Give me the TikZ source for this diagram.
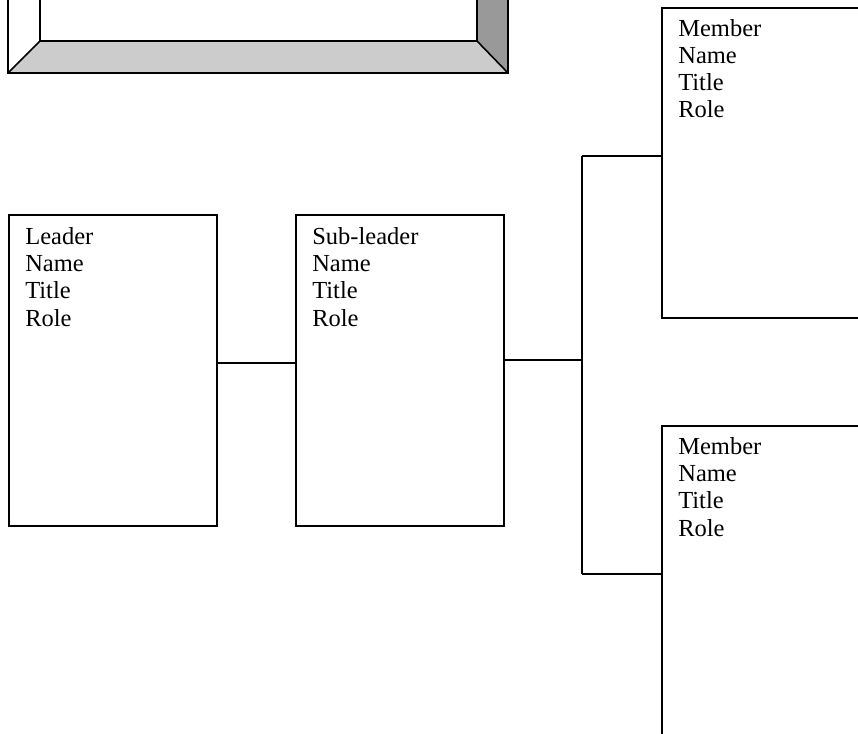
\documentclass[tikz,border=0pt]{standalone}
\usepackage{fontspec}
\setmainfont{Liberation Serif}
\usepackage{tikz}
\definecolor{bevdark}{HTML}{999999}
\definecolor{bevlight}{HTML}{CCCCCC}
\tikzset{every picture/.style = {x=1pt, y=-1pt, line width=1.6pt}}
\tikzset{card/.style = {draw, anchor=north west, inner sep=0, minimum width=208pt, minimum height=311pt}}
\tikzset{wide/.style = {card, minimum width=240pt}}
\tikzset{lines/.style = {anchor=north west, inner sep=0, align=left, font=\fontsize{24.5}{27.3}\selectfont}}

\begin{document}
\begin{tikzpicture}
  \useasboundingbox (0, 0) rectangle (858, 733);
  \clip (0, 0) rectangle (858, 733);
  % frame at the top
  \fill[bevdark] (477, -10) -- (508, -10) -- (508, 73) -- (477, 41) -- cycle;
  \fill[bevlight] (40, 41) -- (477, 41) -- (508, 73) -- (8, 73) -- cycle;
  \draw (8, -10) rectangle (508, 73);
  \draw (40, -10) rectangle (477, 41);
  \draw (8, 73) -- (40, 41);
  \draw (508, 73) -- (477, 41);
  % boxes
  \node[card] (lead) at (8, 214) {};
  \node[card] (sub) at (295, 214) {};
  \node[wide, minimum height=310pt] (top) at (661, 7) {};
  \node[wide, minimum height=330pt] (low) at (661, 425) {};
  \node[lines] (leadtxt) at ([shift={(16.5pt, -12.3pt)}]lead.north west) {Leader\\Name\\Title\\Role};
  \node[lines] (subtxt) at ([shift={(16.5pt, -12.3pt)}]sub.north west) {Sub-leader\\Name\\Title\\Role};
  \node[lines] (toptxt) at ([shift={(16.5pt, -11.3pt)}]top.north west) {Member\\Name\\Title\\Role};
  \node[lines] (lowtxt) at ([shift={(16.5pt, -11.3pt)}]low.north west) {Member\\Name\\Title\\Role};
  % connectors
  \coordinate (upjoin) at (582, 156);
  \coordinate (lowjoin) at (582, 574);
  \draw ([yshift=7.5pt]lead.east) -- ([yshift=7.5pt]sub.east -| sub.west);
  \draw ([yshift=10.5pt]sub.east) -- ([yshift=10.5pt]sub.east -| upjoin);
  \draw (upjoin) -- (lowjoin);
  \draw (upjoin) -- (upjoin -| top.west);
  \draw (lowjoin) -- (lowjoin -| low.west);
\end{tikzpicture}
\end{document}
